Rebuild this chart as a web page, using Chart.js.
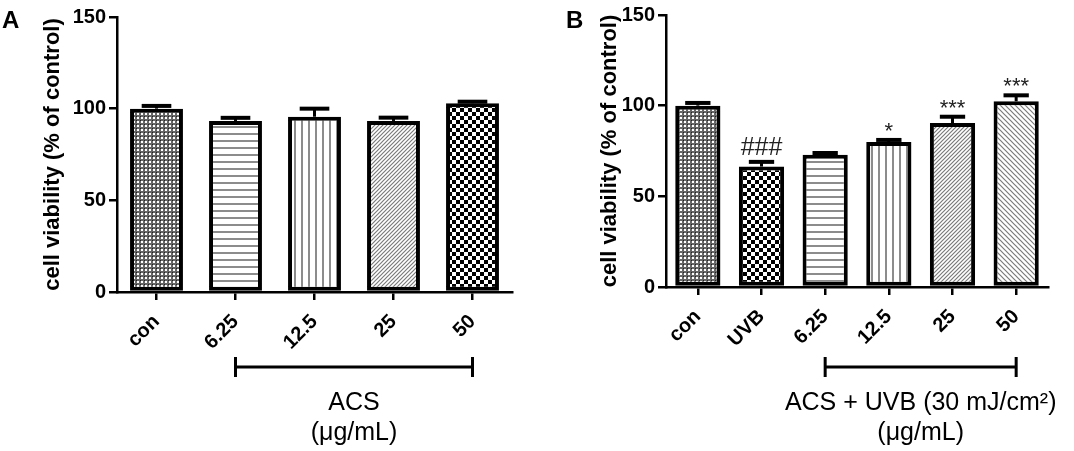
<!DOCTYPE html>
<html>
<head>
<meta charset="utf-8">
<script src="https://cdn.jsdelivr.net/npm/chart.js@4.4.1/dist/chart.umd.min.js"></script>
<style>
  html, body { margin: 0; padding: 0; background: #fff; }
  #wrap { position: relative; width: 1074px; height: 451px; overflow: hidden; }
  canvas { position: absolute; top: 0; }
  #chartA { left: 0; }
  #chartB { left: 535px; }
</style>
</head>
<body>
<div id="wrap">
  <canvas id="chartA" width="535" height="451"></canvas>
  <canvas id="chartB" width="539" height="451"></canvas>
</div>
<script>
const FONT = "'Liberation Sans', Arial, sans-serif";

// panel A: ACS alone
const labelsA = ["con", "6.25", "12.5", "25", "50"];
const viabilityA = [100, 93.3, 95.6, 93.3, 103];
const errorA = [1.5, 1.7, 4.4, 1.8, 0.8];

// panel B: ACS + UVB
const labelsB = ["con", "UVB", "6.25", "12.5", "25", "50"];
const viabilityB = [100, 66.4, 72.9, 79.9, 90.4, 102.4];
const errorB = [1.5, 2.6, 1.0, 1.2, 3.5, 3.3];
const marksB = ["", "###", "", "*", "***", "***"];

const yMax = 150;
const yStep = 50;
const yTitle = "cell viability (% of control)";

const fillsA = ["dots", "hlines", "vlines", "slash", "checker"];
const fillsB = ["dots", "checker", "hlines", "vlines", "slash", "backslash"];

function makePattern(ctx, kind) {
  const c = document.createElement("canvas");
  const g = c.getContext("2d");
  if (kind === "dots") {
    c.width = 4; c.height = 4;
    g.fillStyle = "#666"; g.fillRect(0, 0, 4, 4);
    g.fillStyle = "#fff"; g.fillRect(1, 1, 2, 2);
    g.fillStyle = "#222"; g.fillRect(0, 0, 1, 1);
  } else if (kind === "hlines") {
    c.width = 8; c.height = 7;
    g.fillStyle = "#fff"; g.fillRect(0, 0, 8, 7);
    g.fillStyle = "#8c8c8c"; g.fillRect(0, 0, 8, 2);
  } else if (kind === "vlines") {
    c.width = 7; c.height = 8;
    g.fillStyle = "#fff"; g.fillRect(0, 0, 7, 8);
    g.fillStyle = "#8c8c8c"; g.fillRect(0, 0, 2, 8);
  } else if (kind === "checker") {
    c.width = 8; c.height = 8;
    g.fillStyle = "#fff"; g.fillRect(0, 0, 8, 8);
    g.fillStyle = "#000";
    g.fillRect(0, 0, 4, 4); g.fillRect(4, 4, 4, 4);
  } else {
    const n = kind === "slash" ? 4 : 5;
    c.width = n; c.height = n;
    g.fillStyle = "#fff"; g.fillRect(0, 0, n, n);
    g.strokeStyle = "#7a7a7a"; g.lineWidth = 1.2;
    g.beginPath();
    if (kind === "slash") {
      g.moveTo(-1, n + 1); g.lineTo(n + 1, -1);
      g.moveTo(-1, 1); g.lineTo(1, -1);
      g.moveTo(n - 1, n + 1); g.lineTo(n + 1, n - 1);
    } else {
      g.moveTo(-1, -1); g.lineTo(n + 1, n + 1);
      g.moveTo(-1, n - 1); g.lineTo(1, n + 1);
      g.moveTo(n - 1, -1); g.lineTo(n + 1, 1);
    }
    g.stroke();
  }
  return ctx.createPattern(c, "repeat");
}

// upper error bars + significance marks
const errorBars = {
  id: "errorBars",
  afterDatasetsDraw(chart, args, opts) {
    const { ctx, scales: { y } } = chart;
    const meta = chart.getDatasetMeta(0);
    ctx.save();
    ctx.strokeStyle = "#000";
    meta.data.forEach((bar, i) => {
      const v = opts.values[i], e = opts.errors[i];
      const yTop = y.getPixelForValue(v);
      const yErr = y.getPixelForValue(v + e);
      const half = bar.width * 0.28;
      ctx.lineWidth = 3;
      ctx.beginPath(); ctx.moveTo(bar.x, yTop); ctx.lineTo(bar.x, yErr); ctx.stroke();
      ctx.lineWidth = 4;
      ctx.beginPath(); ctx.moveTo(bar.x - half, yErr); ctx.lineTo(bar.x + half, yErr); ctx.stroke();
      const mark = opts.marks ? opts.marks[i] : "";
      if (mark) {
        ctx.fillStyle = "#222";
        ctx.textAlign = "center";
        ctx.textBaseline = "alphabetic";
        ctx.font = (mark[0] === "#" ? "25px " : "22px ") + FONT;
        ctx.fillText(mark, bar.x, yErr - (mark[0] === "#" ? 7 : 2));
      }
    });
    ctx.restore();
  }
};

// panel letter, group bracket and group caption
const extras = {
  id: "extras",
  afterDraw(chart, args, opts) {
    const { ctx, scales: { x } } = chart;
    ctx.save();
    ctx.fillStyle = "#000";
    ctx.font = "bold 24px " + FONT;
    ctx.textAlign = "left";
    ctx.textBaseline = "alphabetic";
    ctx.fillText(opts.letter, opts.letterX, 28);

    const x0 = x.getPixelForValue(opts.from);
    const x1 = x.getPixelForValue(opts.to);
    const by = 367;
    ctx.strokeStyle = "#000";
    ctx.lineWidth = 3;
    ctx.beginPath();
    ctx.moveTo(x0, by); ctx.lineTo(x1, by);
    ctx.moveTo(x0, by - 10); ctx.lineTo(x0, by + 10);
    ctx.moveTo(x1, by - 10); ctx.lineTo(x1, by + 10);
    ctx.stroke();

    const cx = (x0 + x1) / 2;
    ctx.font = "25px " + FONT;
    ctx.textAlign = "center";
    ctx.fillText(opts.lines[0], cx, 410);
    ctx.fillText(opts.lines[1], cx, 440);
    ctx.restore();
  }
};

function buildChart(id, labels, values, errors, fills, marks, cfg) {
  const canvas = document.getElementById(id);
  const ctx = canvas.getContext("2d");
  return new Chart(canvas, {
    type: "bar",
    data: {
      labels: labels,
      datasets: [{
        data: values,
        backgroundColor: fills.map((f) => makePattern(ctx, f)),
        borderColor: "#000",
        borderWidth: 4,
        borderSkipped: false,
        barPercentage: cfg.barPct,
        categoryPercentage: 1
      }]
    },
    options: {
      responsive: false,
      animation: false,
      devicePixelRatio: 1,
      layout: { padding: { left: 0, top: cfg.top, right: cfg.right, bottom: 0 } },
      plugins: {
        legend: { display: false },
        tooltip: { enabled: false },
        errorBars: { values: values, errors: errors, marks: marks },
        extras: cfg.extras
      },
      scales: {
        x: {
          afterFit: (s) => { s.height = cfg.xHeight; },
          border: { display: true, color: "#000", width: 2.5 },
          grid: { offset: false, drawOnChartArea: false, drawTicks: true, tickLength: 8, color: "#000", lineWidth: 2.5 },
          ticks: {
            autoSkip: false, minRotation: 45, maxRotation: 45, padding: 10,
            color: "#000", font: { family: FONT, size: 20, weight: "bold" }
          }
        },
        y: {
          min: 0, max: yMax,
          afterFit: (s) => { s.width = cfg.yWidth; },
          border: { display: true, color: "#000", width: 2.5 },
          grid: { drawOnChartArea: false, drawTicks: true, tickLength: 8, color: "#000", lineWidth: 2.5 },
          ticks: {
            stepSize: yStep, padding: 3,
            color: "#000", font: { family: FONT, size: 20, weight: "bold" }
          },
          title: {
            display: true, text: yTitle, color: "#000",
            font: { family: FONT, size: 22, weight: "bold" },
            padding: { top: cfg.titlePad, bottom: 0 }
          }
        }
      }
    },
    plugins: [errorBars, extras]
  });
}

buildChart("chartA", labelsA, viabilityA, errorA, fillsA, null, {
  barPct: 0.67, top: 17, right: 23, xHeight: 159, yWidth: 117, titlePad: 40,
  extras: { letter: "A", letterX: 2, from: 1, to: 4, lines: ["ACS", "(\u03bcg/mL)"] }
});

buildChart("chartB", labelsB, viabilityB, errorB, fillsB, marksB, {
  barPct: 0.71, top: 15, right: 26, xHeight: 164, yWidth: 131, titlePad: 62,
  extras: { letter: "B", letterX: 31, from: 2, to: 5, lines: ["ACS + UVB (30 mJ/cm\u00b2)", "(\u03bcg/mL)"] }
});
</script>
</body>
</html>
